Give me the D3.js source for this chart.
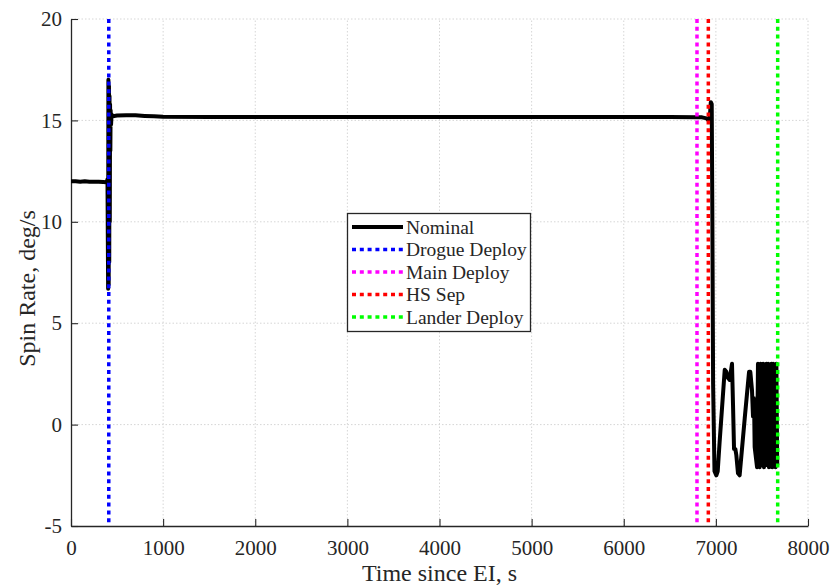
<!DOCTYPE html>
<html><head><meta charset="utf-8">
<script src="https://cdn.jsdelivr.net/npm/d3@7"></script>
<style>body{margin:0;background:#fff}svg{display:block}text{font-family:"Liberation Serif","Times New Roman",serif;fill:#262626}</style>
</head><body><div id="chart"></div>
<script>
// ---- data ----
const nominalTime = [0,50,100,150,200,250,300,350,380,390,396,400,403,406,409,412,415,418,421,424,427,430,435,440,450,470,500,600,700,800,900,1000,1500,2000,3000,4000,5000,6000,6500,6800,6850,6900,6920,6935,6945,6955,6962,6970,6985,7005,7020,7040,7096,7114,7132,7150,7175,7186,7197,7211,7222,7240,7258,7313,7360,7374,7392,7403,7414,7421,7447,7457,7466,7475,7486,7495,7504,7513,7522,7531,7540,7549,7558,7567,7576,7585,7594,7603,7612,7621,7630,7639,7648,7657,7666];
const nominalRate = [12.0,12.0,11.98,12.0,11.98,11.97,11.97,11.96,11.95,11.98,12.1,9.0,6.7,17.0,6.9,16.7,8.0,16.2,10.0,15.8,13.5,15.5,14.8,15.3,15.2,15.22,15.24,15.26,15.25,15.22,15.2,15.18,15.17,15.17,15.17,15.17,15.17,15.17,15.17,15.16,15.15,15.1,15.0,15.2,15.9,15.8,10.0,2.0,-2.3,-2.5,-2.3,-0.9,2.7,2.6,2.3,2.2,3.0,1.0,-1.2,-1.2,-1.5,-2.4,-2.5,0.3,2.6,2.6,1.7,0.4,1.3,-1.1,-2.1,3.0,-1.5,-2.1,3.0,0.5,-2.0,3.0,-2.1,2.5,-2.0,3.0,-1.8,3.0,-2.1,1.5,-2.0,3.0,-2.1,3.0,-2.0,2.8,-2.1,3.0,-2.0];
const eventNames = ["Drogue Deploy","Main Deploy","HS Sep","Lander Deploy"];
const eventTimes = [410,6795,6918,7671];
const eventColors = ["#0000ff","#ff00ff","#ff0000","#00ff00"];
const xTicks = [0,1000,2000,3000,4000,5000,6000,7000,8000];
const yTicks = [-5,0,5,10,15,20];

// ---- chart ----
const W = 831, H = 587;
const m = {left:71, right:23, top:19, bottom:61};
const x = d3.scaleLinear().domain([0,8000]).range([m.left, W-m.right]);
const y = d3.scaleLinear().domain([-5,20]).range([H-m.bottom, m.top]);
const svg = d3.select("#chart").append("svg").attr("width",W).attr("height",H);

// grid
svg.append("g").selectAll("line").data(xTicks.slice(1)).join("line")
  .attr("x1",d=>x(d)).attr("x2",d=>x(d)).attr("y1",y(-5)).attr("y2",y(20))
  .attr("stroke","#d6d6d6").attr("stroke-width",1).attr("stroke-dasharray","1.5,2");
svg.append("g").selectAll("line").data(yTicks.slice(1)).join("line")
  .attr("x1",x(0)).attr("x2",x(8000)).attr("y1",d=>y(d)).attr("y2",d=>y(d))
  .attr("stroke","#d6d6d6").attr("stroke-width",1).attr("stroke-dasharray","1.5,2");

// axes
const fmt = d => String(d);
const xAxis = d3.axisBottom(x).tickValues(xTicks).tickSizeInner(-7).tickSizeOuter(0).tickPadding(14).tickFormat(fmt);
const yAxis = d3.axisLeft(y).tickValues(yTicks).tickSizeInner(-7).tickSizeOuter(0).tickPadding(9).tickFormat(fmt);
const gx = svg.append("g").attr("transform",`translate(0,${y(-5)})`).call(xAxis);
const gy = svg.append("g").attr("transform",`translate(${x(0)},0)`).call(yAxis);
[gx,gy].forEach(g=>{
  g.select(".domain").attr("stroke","#262626").attr("stroke-width",1.3);
  g.selectAll(".tick line").attr("stroke","#262626").attr("stroke-width",1.1);
  g.selectAll(".tick text").attr("font-size",21).attr("font-family","Liberation Serif").attr("fill","#262626");
});

// clip
svg.append("clipPath").attr("id","clip").append("rect")
  .attr("x",x(0)).attr("y",y(20)).attr("width",x(8000)-x(0)).attr("height",y(-5)-y(20));

// nominal line
const pts = nominalTime.map((t,i)=>[t,nominalRate[i]]);
svg.append("path").datum(pts).attr("clip-path","url(#clip)")
  .attr("d",d3.line().x(d=>x(d[0])).y(d=>y(d[1])))
  .attr("fill","none").attr("stroke","#000").attr("stroke-width",4).attr("stroke-linejoin","round");

// event lines
svg.append("g").selectAll("line").data(eventTimes).join("line")
  .attr("x1",d=>x(d)).attr("x2",d=>x(d)).attr("y1",y(20)).attr("y2",y(-5))
  .attr("stroke",(d,i)=>eventColors[i]).attr("stroke-width",3.5).attr("stroke-dasharray","4,3.8");

// labels
svg.append("text").attr("x",(x(0)+x(8000))/2).attr("y",581).attr("text-anchor","middle")
  .attr("font-size",24).text("Time since EI, s");
svg.append("text").attr("transform",`translate(35,${(y(-5)+y(20))/2+16}) rotate(-90)`).attr("text-anchor","middle")
  .attr("font-size",24).text("Spin Rate, deg/s");

// legend
const lg = svg.append("g");
lg.append("rect").attr("x",347.5).attr("y",213.5).attr("width",183).attr("height",118)
  .attr("fill","#fff").attr("stroke","#262626").attr("stroke-width",1.3);
const legNames = ["Nominal"].concat(eventNames);
const legColors = ["#000"].concat(eventColors);
legNames.forEach((n,i)=>{
  const cy = 227 + i*22.5;
  lg.append("line").attr("x1",352).attr("x2",403).attr("y1",cy).attr("y2",cy)
    .attr("stroke",legColors[i]).attr("stroke-width",i===0?4:3.5)
    .attr("stroke-dasharray",i===0?null:"4,3.8");
  lg.append("text").attr("x",406).attr("y",cy).attr("dy","0.35em").attr("font-size",19.5).attr("fill","#000").text(n);
});
</script></body></html>
